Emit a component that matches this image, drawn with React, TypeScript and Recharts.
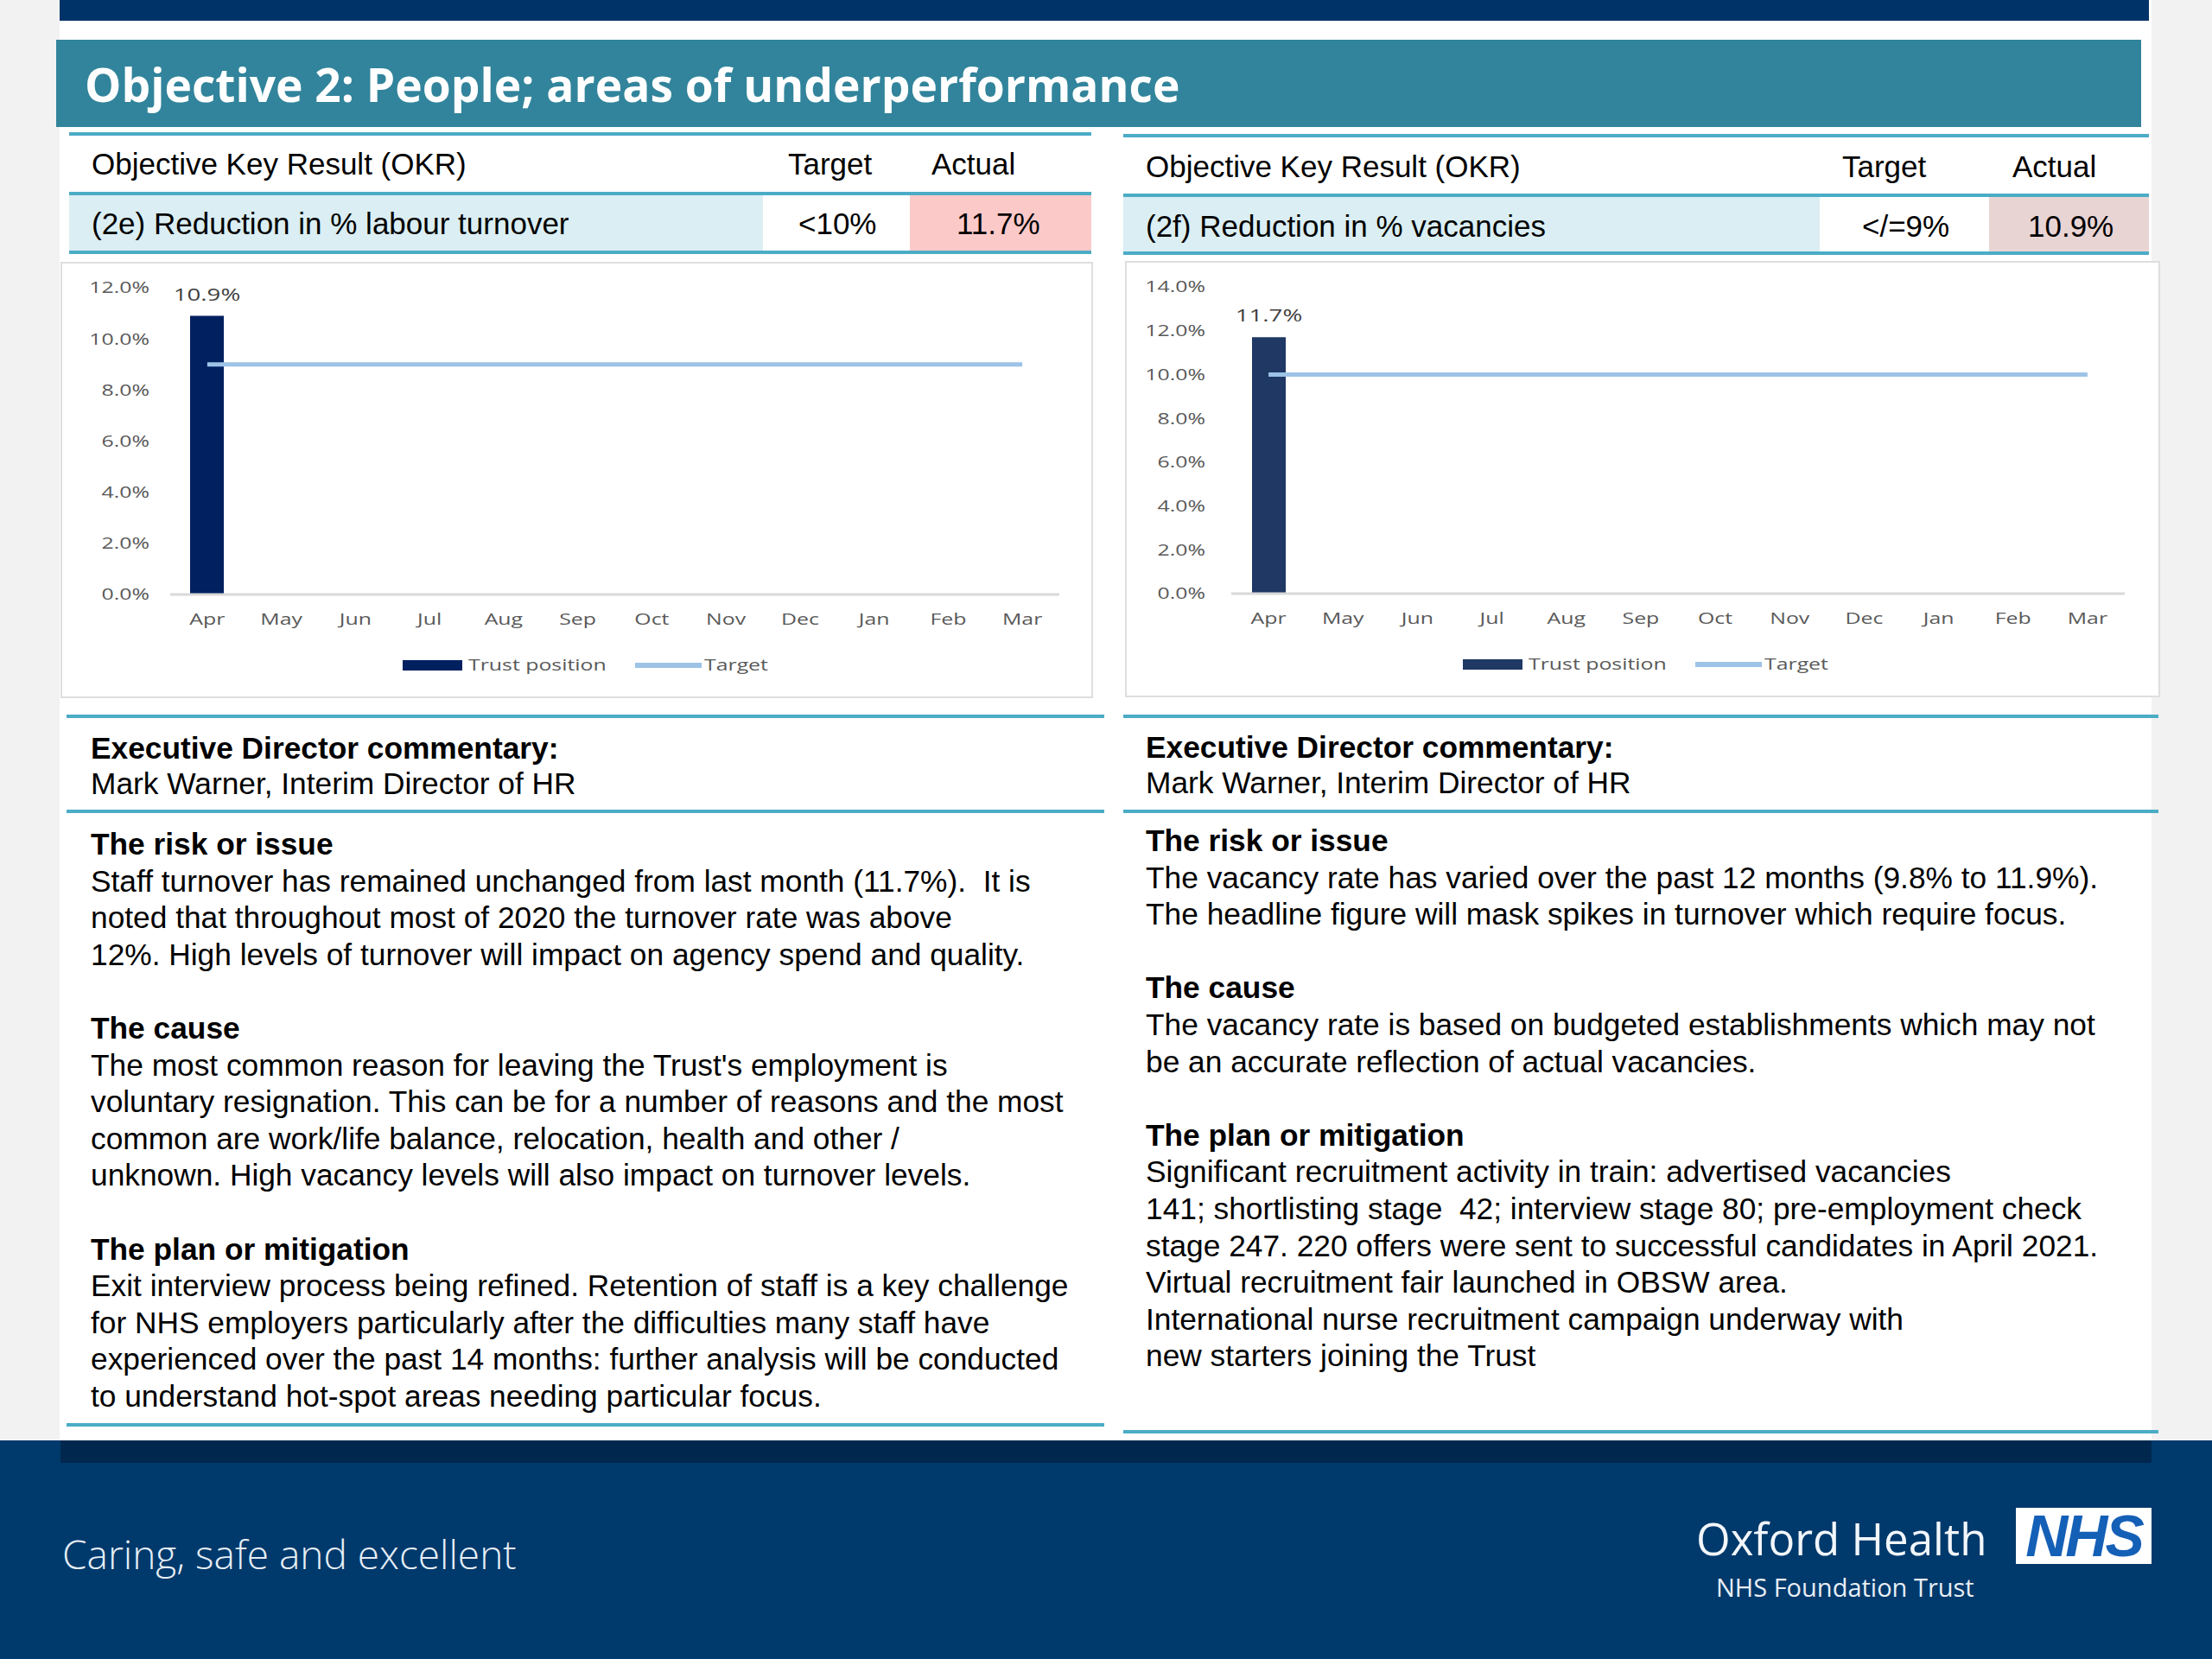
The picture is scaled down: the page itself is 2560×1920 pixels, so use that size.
import React from 'react';
import { ComposedChart, Bar, Line, XAxis, YAxis, Legend, LabelList } from 'recharts';

// ---------- data ----------
const months = ['Apr', 'May', 'Jun', 'Jul', 'Aug', 'Sep', 'Oct', 'Nov', 'Dec', 'Jan', 'Feb', 'Mar'];
const turnoverActual: (number | null)[] = [10.9, null, null, null, null, null, null, null, null, null, null, null];
const turnoverTarget = [9, 9, 9, 9, 9, 9, 9, 9, 9, 9, 9, 9];
const turnoverTicks = [0, 2, 4, 6, 8, 10, 12];
const vacancyActual: (number | null)[] = [11.7, null, null, null, null, null, null, null, null, null, null, null];
const vacancyTarget = [10, 10, 10, 10, 10, 10, 10, 10, 10, 10, 10, 10];
const vacancyTicks = [0, 2, 4, 6, 8, 10, 12, 14];
const seriesNames = ['Trust position', 'Target'];

const ARIAL = '"Liberation Sans", Arial, Helvetica, sans-serif';
const OPEN = '"Open Sans", "DejaVu Sans", sans-serif';
const CHART_FONT = '"Open Sans", sans-serif';
const SX = 1.38;
const TICK_COLOR = '#595959';
const TEAL_LINE = '#4bacc6';
const TARGET_COLOR = '#9dc3e6';

const fmtPct = (v: number) => `${Number(v).toFixed(1)}%`;

function XTick(props: any) {
  const { x, y, payload } = props;
  return (
    <text transform={`translate(${x},${y}) scale(${SX},1)`} textAnchor="middle" dy="0.357em"
      fontFamily={CHART_FONT} fontSize={18} fill={TICK_COLOR}>{payload.value}</text>
  );
}

function YTick(props: any) {
  const { x, y, payload } = props;
  return (
    <text transform={`translate(${x},${y}) scale(${SX},1)`} textAnchor="end" dy="0.357em"
      fontFamily={CHART_FONT} fontSize={18} fill={TICK_COLOR}>{fmtPct(payload.value)}</text>
  );
}

function BarValueLabel(props: any) {
  const vb = props.viewBox || props;
  const { value } = props;
  if (value === null || value === undefined) return null;
  const cx = vb.x + vb.width / 2;
  return (
    <text transform={`translate(${cx},${vb.y - 25}) scale(${SX},1)`} textAnchor="middle" dy="0.357em"
      fontFamily={CHART_FONT} fontSize={20} fill="#404040">{fmtPct(value)}</text>
  );
}

function LegendSvg({ payload, width, x0, barColor }: any) {
  const cy = 22;
  const items = payload || [];
  const bar = items.find((p: any) => p.dataKey === 'actual') || { value: seriesNames[0], color: barColor };
  const line = items.find((p: any) => p.dataKey === 'target') || { value: seriesNames[1], color: TARGET_COLOR };
  return (
    <svg width={width} height={60} style={{ display: 'block' }}>
      <rect x={x0} y={cy - 6} width={69} height={12} fill={barColor} />
      <text transform={`translate(${x0 + 76},${cy}) scale(${SX},1)`} dy="0.357em"
        fontFamily={CHART_FONT} fontSize={18} fill={TICK_COLOR}>{bar.value}</text>
      <line x1={x0 + 269} x2={x0 + 346} y1={cy} y2={cy} stroke={TARGET_COLOR} strokeWidth={6} />
      <text transform={`translate(${x0 + 349},${cy}) scale(${SX},1)`} dy="0.357em"
        fontFamily={CHART_FONT} fontSize={18} fill={TICK_COLOR}>{line.value}</text>
    </svg>
  );
}

function OkrChart(props: any) {
  const { actual, target, ticks, maxY, barColor, width, height, legendX, yWidth, yTickMargin, rightMargin } = props;
  const data = months.map((m, i) => ({ month: m, actual: actual[i], target: target[i] }));
  return (
    <ComposedChart width={width} height={height} data={data}
      margin={{ top: 30, right: rightMargin, bottom: 0, left: 0 }}>
      <XAxis dataKey="month" interval={0} tickLine={false} tickSize={0} tickMargin={29}
        axisLine={{ stroke: '#d9d9d9', strokeWidth: 3 }} height={60} tick={<XTick />} />
      <YAxis domain={[0, maxY]} ticks={ticks} interval={0} width={yWidth} axisLine={false}
        tickLine={false} tickSize={0} tickMargin={yTickMargin} tick={<YTick />} />
      <Bar dataKey="actual" name={seriesNames[0]} fill={barColor} barSize={39} isAnimationActive={false}>
        <LabelList dataKey="actual" content={<BarValueLabel />} />
      </Bar>
      <Line dataKey="target" name={seriesNames[1]} stroke={TARGET_COLOR} strokeWidth={5} dot={false}
        activeDot={false} isAnimationActive={false} type="linear" />
      <Legend verticalAlign="bottom" wrapperStyle={{ height: 60, width, left: 0 }}
        content={(p: any) => <LegendSvg payload={p.payload} width={width} x0={legendX} barColor={barColor} />} />
    </ComposedChart>
  );
}

const abs = (left: number, top: number, width: number, height: number, extra: any = {}) => ({
  position: 'absolute' as const, left, top, width, height, ...extra,
});

function Txt({ x, cy, size, bold, color = '#000', family = ARIAL, lh = 44, children, weight, italic, spacing }: any) {
  return (
    <div style={{
      position: 'absolute', left: x, top: cy - lh / 2, height: lh, lineHeight: `${lh}px`,
      fontSize: size, fontFamily: family, fontWeight: weight ?? (bold ? 700 : 400), color,
      whiteSpace: 'pre', fontStyle: italic ? 'italic' : 'normal', letterSpacing: spacing,
    }}>{children}</div>
  );
}

const leftLines: [string, boolean][] = [
  ['The risk or issue', true],
  ['Staff turnover has remained unchanged from last month (11.7%).  It is', false],
  ['noted that throughout most of 2020 the turnover rate was above', false],
  ['12%. High levels of turnover will impact on agency spend and quality.', false],
  ['', false],
  ['The cause', true],
  ["The most common reason for leaving the Trust's employment is", false],
  ['voluntary resignation. This can be for a number of reasons and the most', false],
  ['common are work/life balance, relocation, health and other /', false],
  ['unknown. High vacancy levels will also impact on turnover levels.', false],
  ['', false],
  ['The plan or mitigation', true],
  ['Exit interview process being refined. Retention of staff is a key challenge', false],
  ['for NHS employers particularly after the difficulties many staff have', false],
  ['experienced over the past 14 months: further analysis will be conducted', false],
  ['to understand hot-spot areas needing particular focus.', false],
];

const rightLines: [string, boolean][] = [
  ['The risk or issue', true],
  ['The vacancy rate has varied over the past 12 months (9.8% to 11.9%).', false],
  ['The headline figure will mask spikes in turnover which require focus.', false],
  ['', false],
  ['The cause', true],
  ['The vacancy rate is based on budgeted establishments which may not', false],
  ['be an accurate reflection of actual vacancies.', false],
  ['', false],
  ['The plan or mitigation', true],
  ['Significant recruitment activity in train: advertised vacancies', false],
  ['141; shortlisting stage  42; interview stage 80; pre-employment check', false],
  ['stage 247. 220 offers were sent to successful candidates in April 2021.', false],
  ['Virtual recruitment fair launched in OBSW area.', false],
  ['International nurse recruitment campaign underway with', false],
  ['new starters joining the Trust', false],
];

const BODY = 35.3;
const STEP = 42.6;

function Commentary({ x, firstCy, lines }: any) {
  return (
    <>
      {lines.map(([t, b]: [string, boolean], i: number) =>
        t ? <Txt key={i} x={x} cy={firstCy + i * STEP} size={BODY} bold={b}>{t}</Txt> : null)}
    </>
  );
}

function HLine({ x1, x2, y, color = TEAL_LINE, h = 4 }: any) {
  return <div style={abs(x1, y - h / 2, x2 - x1, h, { background: color })} />;
}

export default function App() {
  return (
    <div style={{ position: 'absolute', left: 0, top: 0, width: 2560, height: 1920, background: '#f2f2f2', overflow: 'hidden' }}>
      {/* white content */}
      <div style={abs(69, 0, 2421, 1667, { background: '#ffffff' })} />
      {/* top bar */}
      <div style={abs(69, 0, 2418, 24, { background: '#003468' })} />
      {/* title bar */}
      <div style={abs(65, 46, 2413, 101, { background: '#31849b' })} />
      <Txt x={98} cy={98} size={53.3} bold color="#ffffff" family={OPEN} lh={80}>Objective 2: People; areas of underperformance</Txt>

      {/* left table */}
      <div style={abs(80, 224, 803, 68, { background: '#daeef3' })} />
      <div style={abs(1053, 224, 210, 68, { background: '#fcc9c9' })} />
      <HLine x1={80} x2={1263} y={155} />
      <HLine x1={80} x2={1263} y={224} />
      <HLine x1={80} x2={1263} y={292} />
      <Txt x={106} cy={190} size={35}>Objective Key Result (OKR)</Txt>
      <Txt x={912} cy={190} size={35}>Target</Txt>
      <Txt x={1078} cy={190} size={35}>Actual</Txt>
      <Txt x={106} cy={259} size={35}>(2e) Reduction in % labour turnover</Txt>
      <Txt x={924} cy={259} size={35}>{'<10%'}</Txt>
      <Txt x={1107} cy={259} size={35}>11.7%</Txt>

      {/* right table */}
      <div style={abs(1300, 226, 806, 67, { background: '#daeef3' })} />
      <div style={abs(2302, 226, 185, 67, { background: '#e9d4d4' })} />
      <HLine x1={1300} x2={2487} y={157} />
      <HLine x1={1300} x2={2487} y={226} />
      <HLine x1={1300} x2={2487} y={293} />
      <Txt x={1326} cy={193} size={35}>Objective Key Result (OKR)</Txt>
      <Txt x={2132} cy={193} size={35}>Target</Txt>
      <Txt x={2329} cy={193} size={35}>Actual</Txt>
      <Txt x={1326} cy={262} size={35}>(2f) Reduction in % vacancies</Txt>
      <Txt x={2155} cy={262} size={35}>{'</=9%'}</Txt>
      <Txt x={2347} cy={262} size={35}>10.9%</Txt>

      {/* left chart */}
      <div style={abs(70, 303, 1195, 505, { background: '#fff', border: '2px solid #dedede', boxSizing: 'border-box' })} />
      <div style={abs(70, 303, 1195, 505)}>
        <OkrChart actual={turnoverActual} target={turnoverTarget} ticks={turnoverTicks} maxY={12}
          barColor="#002060" width={1195} height={505} legendX={396} yWidth={127} yTickMargin={24} rightMargin={39} />
      </div>

      {/* right chart */}
      <div style={abs(1302, 302, 1198, 505, { background: '#fff', border: '2px solid #dedede', boxSizing: 'border-box' })} />
      <div style={abs(1302, 302, 1198, 505)}>
        <OkrChart actual={vacancyActual} target={vacancyTarget} ticks={vacancyTicks} maxY={14}
          barColor="#1f3864" width={1198} height={505} legendX={391} yWidth={123} yTickMargin={30} rightMargin={41} />
      </div>

      {/* left commentary */}
      <HLine x1={77} x2={1278} y={829} />
      <Txt x={105} cy={866} size={BODY} bold>Executive Director commentary:</Txt>
      <Txt x={105} cy={907} size={BODY}>Mark Warner, Interim Director of HR</Txt>
      <HLine x1={77} x2={1278} y={939} />
      <Commentary x={105} firstCy={977} lines={leftLines} />
      <HLine x1={77} x2={1278} y={1649} />

      {/* right commentary */}
      <HLine x1={1300} x2={2498} y={829} />
      <Txt x={1326} cy={865} size={BODY} bold>Executive Director commentary:</Txt>
      <Txt x={1326} cy={906} size={BODY}>Mark Warner, Interim Director of HR</Txt>
      <HLine x1={1300} x2={2498} y={939} />
      <Commentary x={1326} firstCy={973} lines={rightLines} />
      <HLine x1={1300} x2={2498} y={1657} />

      {/* footer */}
      <div style={abs(0, 1667, 2560, 253, { background: '#00396b' })} />
      <div style={abs(70, 1667, 2420, 26, { background: '#00284f' })} />
      <Txt x={72} cy={1798} size={46} weight={300} color="#e6eef5" family={OPEN} lh={70}>Caring, safe and excellent</Txt>
      <Txt x={1963} cy={1780} size={51} color="#f2f6fa" family={OPEN} lh={70}>Oxford Health</Txt>
      <Txt x={1986} cy={1837} size={29} color="#e8eef5" family={OPEN} lh={40}>NHS Foundation Trust</Txt>
      <div style={abs(2333, 1745, 157, 65, { background: '#ffffff', display: 'flex', alignItems: 'center', justifyContent: 'center' })}>
        <span style={{ fontFamily: ARIAL, fontWeight: 700, fontStyle: 'italic', fontSize: 68, color: '#1560b7', letterSpacing: -3, lineHeight: '65px' }}>NHS</span>
      </div>
    </div>
  );
}
